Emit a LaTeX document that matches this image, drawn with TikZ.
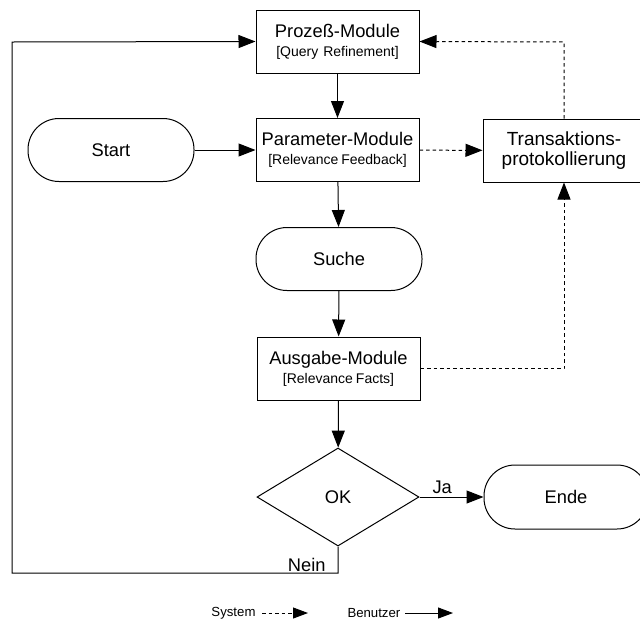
\documentclass[tikz,border=0pt]{standalone}
\usepackage{fontspec}
\setmainfont{Liberation Sans}
\usetikzlibrary{arrows.meta,shapes.geometric}
\newcommand{\bigtxt}{\fontsize{18.3}{20}\selectfont}
\newcommand{\smtxt}{\fontsize{14}{20}\selectfont}
\newcommand{\legtxt}{\fontsize{13.2}{15}\selectfont}
\begin{document}
\begin{tikzpicture}[x=1pt,y=-1pt,
  line width=1pt,
  every node/.style={inner sep=0pt, font=\bigtxt},
  proc/.style={draw, rectangle, minimum width=163pt, minimum height=63pt, align=center},
  term/.style={draw, rectangle, rounded corners=31pt, minimum width=166pt, minimum height=63pt},
  decis/.style={draw, diamond, aspect=1.65, minimum width=162pt, minimum height=98pt},
  tip/.style={-{Triangle[length=17pt,width=13pt]}},
  ltip/.style={-{Triangle[length=15pt,width=11pt]}},
  sysline/.style={dash pattern=on 3.5pt off 3pt},
  lbl/.style={font=\bigtxt}
]
\useasboundingbox (0,0) rectangle (640,622);
\clip (0,0) rectangle (640,622);

\node[proc] (proz) at (337.5,41.5) {Prozeß-Module\\[-1pt]\smtxt [Query\hspace{5pt}Refinement]};
\node[proc] (param) at (337.5,150) {Parameter-Module\\[-1pt]\smtxt [Relevance\hspace{3pt}Feedback]};
\node[term] (start) at (111,150) {Start};
\node[term] (suche) at (339,259) {Suche};
\node[proc] (ausg) at (338.5,368.5) {Ausgabe-Module\\[-1pt]\smtxt [Relevance\hspace{3pt}Facts]};
\node[decis] (ok) at (338,497) {OK};
\node[proc, minimum width=162pt, font=\fontsize{19}{21}\selectfont] (trans) at (564,150.5) {Transaktions-\\[-1pt]protokollierung};
\node[term, minimum width=164pt, minimum height=64pt] (ende) at (566,497) {Ende};

\coordinate (nc) at (338,573);
\coordinate (lb) at (12,573);
\coordinate (lt) at (12,42);
\coordinate (tt) at (564,42);
\coordinate (ab) at (564,368.5);

% user flow
\draw[tip] (proz) -- (param);
\draw[tip] (start) -- (param);
\draw[tip] (param) -- (suche);
\draw[tip] (suche) -- (ausg);
\draw[tip] (ausg) -- (ok);
\draw[tip] (ok) -- (ende);
\draw[tip] (ok.south) -- (nc) -- (lb) -- (lt) -- (proz.west);

% system flow
\draw[tip, sysline] (param) -- (trans);
\draw[tip, sysline] (trans.north) -- (tt) -- (proz.east);
\draw[tip, sysline] (ausg.east) -- (ab) -- (trans.south);

\node[lbl, anchor=south west] (ja) at (432,494) {Ja};
\node[lbl, anchor=south east] (nein) at (326,572) {Nein};

% legend
\node[font=\legtxt, anchor=east] (sys) at (256,613) {System};
\coordinate (s1) at (262,613);
\coordinate (s2) at (308,613);
\draw[ltip, sysline] (s1) -- (s2);
\node[font=\legtxt, anchor=west] (ben) at (347,613) {Benutzer};
\coordinate (b1) at (405,613);
\coordinate (b2) at (453,613);
\draw[ltip] (b1) -- (b2);
\end{tikzpicture}
\end{document}
